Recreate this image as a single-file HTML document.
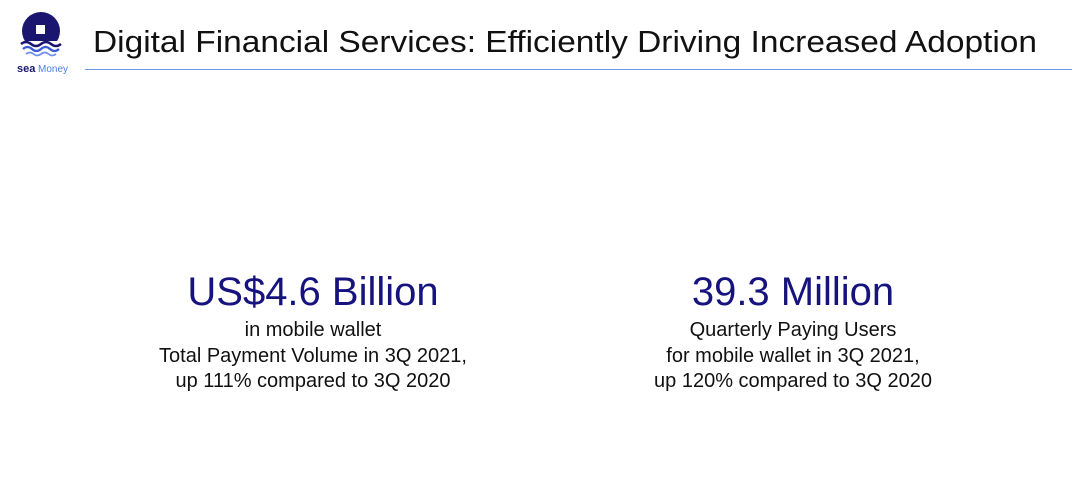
<!DOCTYPE html>
<html><head><meta charset="utf-8">
<style>
html,body{margin:0;padding:0;background:#fff;}
body{width:1080px;height:489px;position:relative;overflow:hidden;font-family:"Liberation Sans",sans-serif;}
.blk{position:absolute;text-align:center;width:480px;}
.big{font-size:40px;color:#16127e;line-height:44px;}
.sub{font-size:20px;color:#111;line-height:25.5px;}
</style></head>
<body>
<svg width="1080" height="489" style="position:absolute;left:0;top:0">
  <g>
    <circle cx="41" cy="31" r="19" fill="#1a1670"/>
    <rect x="36" y="25" width="9" height="9" fill="#fff"/>
    <rect x="18" y="41" width="46" height="18" fill="#fff"/>
    <path d="M21 44 q5 -4 10 0 t10 0 t10 0 t10 0" stroke="#1a1670" stroke-width="2.5" fill="none"/>
    <path d="M23 49 q4.5 -4 9 0 t9 0 t9 0 t9 0" stroke="#3b5bd6" stroke-width="2.2" fill="none"/>
    <path d="M26 54 q4 -3 7.5 0 t7.5 0 t7.5 0 t7.5 0" stroke="#6f8fef" stroke-width="1.8" fill="none"/>
    <text x="17" y="72" font-family="Liberation Sans, sans-serif" font-size="11" font-weight="bold" fill="#1a1670">sea</text>
    <text x="38" y="72" font-family="Liberation Sans, sans-serif" font-size="10" fill="#4a7ee8">Money</text>
  </g>
  <text x="93" y="52" font-family="Liberation Sans, sans-serif" font-size="31" fill="#111" textLength="944" lengthAdjust="spacingAndGlyphs">Digital Financial Services: Efficiently Driving Increased Adoption</text>
  <line x1="85" y1="69.5" x2="1072" y2="69.5" stroke="#6a9ae8" stroke-width="1"/>
</svg>
<div class="blk" style="left:73px;top:270px;">
  <div class="big">US$4.6 Billion</div>
  <div class="sub" style="margin-top:4px">in mobile wallet<br>Total Payment Volume in 3Q 2021,<br>up 111% compared to 3Q 2020</div>
</div>
<div class="blk" style="left:553px;top:270px;">
  <div class="big">39.3 Million</div>
  <div class="sub" style="margin-top:4px">Quarterly Paying Users<br>for mobile wallet in 3Q 2021,<br>up 120% compared to 3Q 2020</div>
</div>
</body></html>
